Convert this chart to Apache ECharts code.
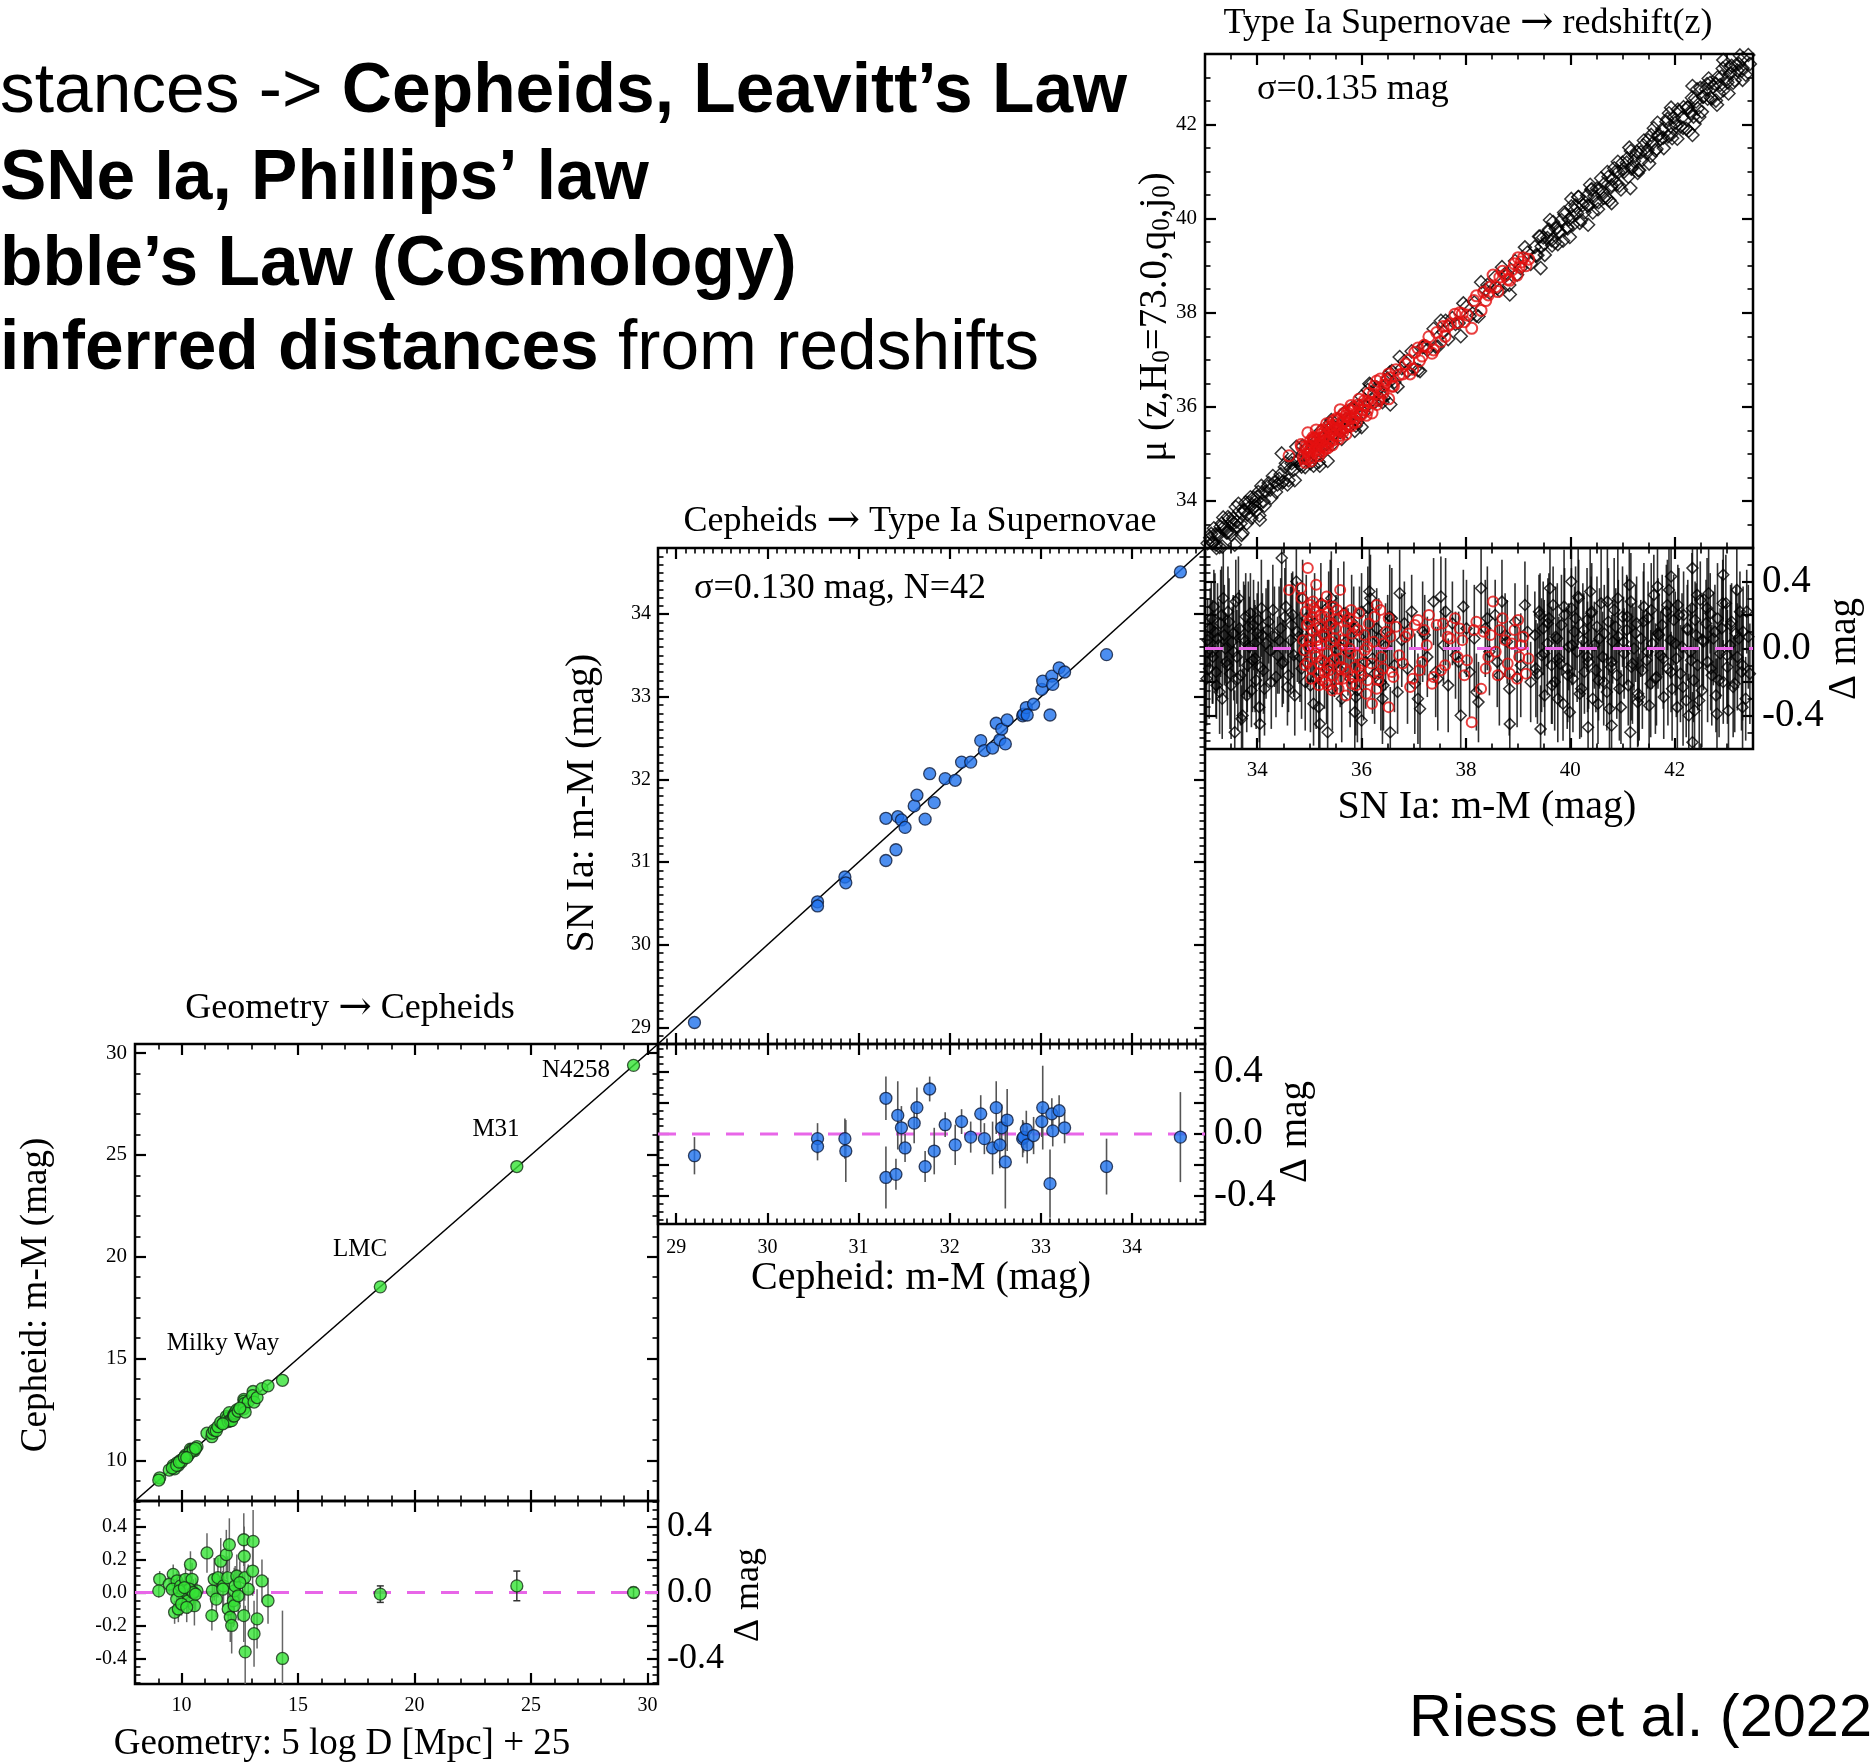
<!DOCTYPE html>
<html><head><meta charset="utf-8">
<script src="https://cdn.jsdelivr.net/npm/echarts@6/dist/echarts.min.js"></script>
<style>html,body{margin:0;padding:0;background:#fff}#c{width:1873px;height:1762px}</style>
</head><body><div id="c"></div>
<script>
// ---------------- DATA ----------------
// Geometry -> Cepheids: Milky Way (x = geometric distance modulus, delta = residual, err)
const mwGeo = [9.06, 9.02, 9.64, 9.47, 9.80, 9.70, 9.86, 9.60, 9.96, 10.06, 10.17, 10.28, 10.38, 10.45, 10.55, 10.66, 9.79, 10.00, 10.34, 10.50, 10.60, 9.90, 10.12, 10.22, 11.09, 11.30, 11.32, 11.40, 11.49, 11.56, 11.68, 11.80, 11.92, 11.98, 12.05, 12.00, 12.09, 12.15, 12.22, 12.26, 12.30, 12.37, 12.26, 12.43, 12.67, 12.69, 12.71, 12.67, 12.73, 12.86, 13.07, 13.05, 13.11, 13.24, 13.45, 13.71, 14.33, 12.50, 11.77];
const mwDelta = [0.08, 0.01, 0.11, 0.05, 0.07, -0.12, -0.10, 0.02, 0.04, -0.01, 0.08, -0.05, 0.17, 0.08, -0.08, 0.01, -0.04, -0.07, 0.02, 0.00, -0.01, 0.01, 0.03, -0.09, 0.24, -0.14, 0.01, 0.08, -0.04, 0.09, 0.19, 0.04, 0.23, 0.09, 0.29, -0.10, -0.15, -0.20, -0.05, 0.01, 0.04, 0.10, -0.08, -0.02, 0.32, 0.22, 0.09, -0.14, -0.36, 0.02, 0.31, 0.13, -0.25, -0.16, 0.07, -0.05, -0.40, 0.06, 0.02];
const mwErr = [0.05, 0.04, 0.06, 0.05, 0.06, 0.07, 0.08, 0.05, 0.07, 0.08, 0.09, 0.08, 0.08, 0.10, 0.12, 0.07, 0.06, 0.07, 0.09, 0.08, 0.10, 0.06, 0.08, 0.09, 0.12, 0.09, 0.10, 0.13, 0.11, 0.12, 0.14, 0.12, 0.15, 0.13, 0.16, 0.14, 0.15, 0.17, 0.16, 0.14, 0.12, 0.13, 0.12, 0.15, 0.16, 0.18, 0.14, 0.16, 0.28, 0.15, 0.19, 0.15, 0.20, 0.18, 0.13, 0.14, 0.29, 0.13, 0.11];
// Geometric anchors
const anchorNames = ['LMC', 'M31', 'N4258'];
const anchorGeo = [18.53, 24.39, 29.40];
const anchorDelta = [-0.01, 0.04, 0.00];
const anchorErr = [0.05, 0.09, 0.03];

// Cepheids -> SN Ia (x = Cepheid m-M, delta = SN - Cepheid)
const cepMu = [29.20, 30.55, 30.55, 30.85, 30.86, 31.30, 31.30, 31.41, 31.43, 31.47, 31.51, 31.61, 31.64, 31.73, 31.78, 31.83, 31.95, 32.06, 32.13, 32.23, 32.34, 32.38, 32.47, 32.51, 32.55, 32.57, 32.61, 32.63, 32.80, 32.81, 32.84, 32.85, 32.92, 33.01, 33.02, 33.12, 33.13, 33.10, 33.20, 33.26, 33.72, 34.53];
const cepDelta = [-0.14, -0.03, -0.08, -0.03, -0.11, 0.23, -0.28, -0.26, 0.12, 0.04, -0.09, 0.07, 0.17, -0.21, 0.29, -0.11, 0.06, -0.07, 0.08, -0.02, 0.13, -0.03, -0.09, 0.17, -0.07, 0.04, -0.18, 0.09, -0.03, -0.02, 0.03, -0.07, -0.01, 0.08, 0.17, 0.13, 0.02, -0.32, 0.15, 0.04, -0.21, -0.02];
const cepErr = [0.12, 0.10, 0.09, 0.13, 0.20, 0.14, 0.20, 0.10, 0.22, 0.14, 0.09, 0.13, 0.13, 0.10, 0.08, 0.15, 0.08, 0.13, 0.08, 0.10, 0.12, 0.10, 0.17, 0.17, 0.15, 0.15, 0.30, 0.20, 0.12, 0.10, 0.12, 0.12, 0.12, 0.10, 0.27, 0.10, 0.10, 0.22, 0.10, 0.10, 0.18, 0.29];

// SN Ia -> redshift, Hubble-flow SNe (black)
const snMu = [33.05, 33.08, 33.12, 33.15, 33.19, 33.22, 33.26, 33.30, 33.33, 33.37, 33.41, 33.44, 33.48, 33.52, 33.55, 33.59, 33.63, 33.66, 33.70, 33.74, 33.78, 33.81, 33.85, 33.89, 33.93, 33.96, 34.00, 34.04, 34.08, 34.12, 34.17, 34.22, 34.27, 34.33, 34.39,
 34.45, 34.50, 34.55, 34.60, 34.64, 34.68, 34.72, 34.77, 34.82, 34.87, 34.92, 34.97,
 35.02, 35.10, 35.18, 35.25, 35.33, 35.40, 35.48, 35.55, 35.62, 35.70, 35.78, 35.85, 35.92, 36.00, 36.08, 36.17, 36.25, 36.33, 36.42, 36.50,
 36.58, 36.69, 36.77, 36.88, 36.96, 37.08, 37.17, 37.26, 37.38, 37.46, 37.57, 37.66, 37.74, 37.86, 37.95, 38.07, 38.16, 38.24, 38.37, 38.45, 38.56, 38.64, 38.75, 38.83, 38.94, 39.05, 39.13, 39.24,
 39.32, 39.37, 39.40, 39.45, 39.48, 39.51, 39.56, 39.59, 39.64, 39.67, 39.70, 39.75, 39.78, 39.83, 39.86, 39.89, 39.94, 39.97, 40.02, 40.05,
 40.08, 40.13, 40.16, 40.21, 40.24, 40.27, 40.32, 40.35, 40.40, 40.43, 40.46, 40.51, 40.54, 40.59, 40.62, 40.65, 40.70, 40.73, 40.78, 40.81,
 40.84, 40.89, 40.92, 40.97, 41.00, 41.03, 41.08, 41.11, 41.16, 41.19, 41.22, 41.27, 41.30, 41.35, 41.38, 41.41, 41.46, 41.49, 41.54, 41.57,
 41.60, 41.65, 41.68, 41.73, 41.76, 41.79, 41.84, 41.87, 41.92, 41.95, 41.98, 42.03, 42.06, 42.11, 42.14, 42.17, 42.22, 42.25, 42.30, 42.33,
 42.36, 42.41, 42.44, 42.49, 42.52, 42.55, 42.60, 42.63, 42.68, 42.71, 42.74, 42.79, 42.82, 42.87, 42.90, 42.93, 42.98, 43.01, 43.06, 43.09,
 43.12, 43.17, 43.20, 43.25, 43.28, 43.31, 43.36, 43.41,
 33.57, 33.72, 34.47, 34.75, 35.20, 35.35, 36.00, 36.55, 38.84, 39.43, 40.02, 40.34, 40.79, 41.15, 42.34, 41.93, 42.34, 42.93, 42.38, 33.35, 34.05, 43.30,
 33.03, 33.10, 33.14, 33.17, 33.21, 33.24, 33.28, 33.32, 33.39, 33.43, 33.46, 33.50, 33.54, 33.61, 33.64, 33.68, 33.76, 33.80, 33.83, 33.87,
 33.91, 33.95, 33.98, 34.02, 34.06, 34.10, 34.14, 34.20, 34.25, 34.30, 34.36, 34.42, 34.48, 34.53, 34.58, 34.66, 34.70, 34.80, 34.85, 34.94,
 35.05, 35.13, 35.22, 35.29, 35.37, 35.44, 35.51, 35.59, 35.66, 35.74, 35.81, 35.89, 35.96, 36.04, 36.12, 36.21, 36.29, 36.37, 36.46, 36.54, 35.08, 35.42, 35.87, 36.15, 36.40,
 36.63, 36.82, 37.02, 37.21, 37.42, 37.61, 37.80, 38.01, 38.20, 38.41, 38.60, 38.79, 38.98, 39.18, 36.73, 37.12, 37.52, 37.90, 38.29, 38.69,
 39.34, 39.42, 39.50, 39.57, 39.65, 39.72, 39.80, 39.88, 39.95, 40.03, 40.10, 40.18, 40.26, 40.33, 40.41, 40.49, 40.56, 40.64, 40.71, 40.79,
 40.87, 40.94, 41.02, 41.09, 41.17, 41.25, 41.32, 41.40, 41.48, 41.55, 41.63, 41.70, 41.78, 41.86, 41.93, 42.01, 42.08, 42.16, 42.24, 42.31,
 42.39, 42.47, 42.54, 42.62, 42.69, 42.77, 42.85, 42.92, 43.00, 43.07, 43.15, 43.23, 43.30, 43.38, 43.44, 39.61, 39.99, 40.38, 40.75, 41.13,
 41.51, 41.89, 42.27, 42.65, 43.03, 39.76, 40.15, 40.53, 40.91, 41.29, 41.67, 42.05, 42.43, 42.81, 43.19];
const snDelta = [0.05, -0.12, 0.18, -0.05, 0.10, -0.22, 0.02, 0.15, -0.30, 0.08, -0.08, 0.22, -0.15, 0.04, -0.02, 0.28, -0.18, 0.12, -0.42, 0.06, 0.19, -0.10, 0.01, -0.25, 0.14, -0.06, 0.09, -0.35, 0.24, -0.13, 0.03, 0.16, -0.20, 0.07, -0.04,
 0.12, -0.08, 0.25, -0.16, 0.05, 0.20, -0.28, 0.10, -0.05, 0.30, -0.20, 0.02,
 -0.22, 0.15, -0.35, 0.08, -0.12, 0.26, -0.05, 0.18, -0.30, 0.04, -0.18, 0.12, -0.25, 0.22, -0.08, 0.30, -0.15, 0.06, -0.22, 0.10,
 0.18, -0.26, 0.05, -0.12, 0.22, -0.30, 0.10, -0.05, 0.28, -0.18, 0.02, -0.22, 0.15, -0.08, 0.25, -0.14, 0.06, -0.32, 0.12, -0.02, 0.20, -0.16, 0.08, -0.24, 0.16, -0.10, 0.26, -0.20,
 0.08, -0.15, 0.22, -0.04, 0.12, -0.28, 0.03, 0.18, -0.10, 0.26, -0.20, 0.06, -0.06, 0.14, -0.33, 0.20, -0.12, 0.01, 0.24, -0.18,
 0.10, -0.02, 0.30, -0.24, 0.05, -0.14, 0.17, -0.08, 0.21, -0.30, 0.02, 0.13, -0.19, 0.27, -0.05, 0.09, -0.26, 0.16, -0.11, 0.04,
 0.23, -0.16, 0.07, -0.35, 0.19, -0.03, 0.11, -0.22, 0.28, -0.09, 0.00, 0.15, -0.27, 0.06, -0.13, 0.25, -0.07, 0.18, -0.21, 0.03,
 0.32, -0.17, 0.09, -0.04, 0.14, -0.29, 0.22, -0.12, 0.05, -0.24, 0.17, -0.06, 0.26, -0.15, 0.01, 0.20, -0.31, 0.11, -0.02, 0.24,
 -0.19, 0.08, -0.10, 0.29, -0.25, 0.04, 0.15, -0.08, 0.21, -0.16, 0.06, -0.28, 0.18, -0.03, 0.12, -0.20, 0.27, -0.11, 0.02, 0.16,
 -0.23, 0.09, -0.05, 0.22, -0.14, 0.10, -0.30, 0.07,
 -0.50, -0.40, 0.54, 0.40, -0.45, -0.50, -0.43, -0.50, -0.45, -0.48, 0.40, -0.47, -0.46, -0.50, -0.56, 0.43, 0.48, 0.44, -0.37, 0.30, -0.45, -0.35,
 -0.18, 0.12, -0.02, 0.25, -0.14, 0.06, -0.26, 0.20, 0.00, -0.10, 0.16, -0.22, 0.09, -0.05, 0.30, -0.16, 0.04, -0.28, 0.13, 0.21,
 -0.07, 0.03, -0.19, 0.17, -0.11, 0.08, -0.24, 0.11, -0.01, 0.23, -0.17, 0.05, -0.09, 0.19, -0.23, 0.14, -0.04, 0.07, -0.12, 0.18,
 0.10, -0.18, 0.27, -0.08, 0.14, -0.24, 0.03, -0.13, 0.21, -0.02, 0.16, -0.29, 0.07, -0.16, 0.24, -0.06, 0.12, -0.20, 0.01, 0.19, -0.33, 0.30, -0.38, 0.34, -0.30,
 -0.10, 0.15, -0.21, 0.08, -0.14, 0.22, -0.04, 0.12, -0.26, 0.18, -0.08, 0.04, -0.17, 0.10, 0.33, -0.36, 0.31, -0.40, 0.36, 0.28,
 -0.12, 0.20, -0.03, 0.15, -0.22, 0.07, -0.09, 0.25, -0.16, 0.02, 0.18, -0.27, 0.11, -0.05, 0.22, -0.13, 0.06, -0.20, 0.28, -0.08,
 0.13, -0.24, 0.04, 0.19, -0.11, 0.09, -0.29, 0.16, -0.02, 0.23, -0.18, 0.08, -0.06, 0.26, -0.14, 0.03, 0.20, -0.23, 0.12, -0.07,
 0.17, -0.31, 0.05, 0.24, -0.12, 0.10, -0.19, 0.27, -0.04, 0.14, -0.21, 0.06, -0.10, 0.22, -0.15, 0.36, -0.38, 0.34, -0.36, 0.38,
 -0.34, 0.35, -0.40, 0.33, -0.37, -0.30, 0.31, -0.33, 0.30, -0.32, 0.37, -0.35, 0.32, -0.39, 0.35];
const snErr = [0.25, 0.30, 0.22, 0.28, 0.35, 0.20, 0.26, 0.32, 0.24, 0.30, 0.22, 0.27, 0.33, 0.21, 0.29, 0.25, 0.31, 0.23, 0.20, 0.34, 0.26, 0.28, 0.30, 0.22, 0.27, 0.32, 0.24, 0.21, 0.29, 0.26, 0.33, 0.25, 0.28, 0.30, 0.23,
 0.30, 0.25, 0.28, 0.22, 0.32, 0.26, 0.24, 0.30, 0.27, 0.23, 0.29, 0.25,
 0.28, 0.30, 0.25, 0.22, 0.33, 0.27, 0.24, 0.30, 0.26, 0.21, 0.29, 0.25, 0.31, 0.23, 0.28, 0.26, 0.30, 0.24, 0.27, 0.22,
 0.30, 0.25, 0.28, 0.33, 0.22, 0.27, 0.30, 0.24, 0.26, 0.31, 0.23, 0.28, 0.25, 0.30, 0.22, 0.27, 0.32, 0.24, 0.29, 0.26, 0.21, 0.30, 0.25, 0.28, 0.23, 0.31, 0.26, 0.24,
 0.26, 0.30, 0.22, 0.34, 0.28, 0.24, 0.31, 0.27, 0.35, 0.23, 0.29, 0.33, 0.25, 0.30, 0.22, 0.28, 0.36, 0.26, 0.24, 0.32,
 0.27, 0.30, 0.23, 0.29, 0.34, 0.25, 0.31, 0.28, 0.22, 0.33, 0.26, 0.30, 0.24, 0.35, 0.27, 0.29, 0.23, 0.32, 0.28, 0.25,
 0.31, 0.26, 0.34, 0.22, 0.30, 0.27, 0.33, 0.24, 0.29, 0.36, 0.25, 0.28, 0.31, 0.23, 0.35, 0.26, 0.30, 0.22, 0.32, 0.27,
 0.24, 0.29, 0.33, 0.26, 0.30, 0.25, 0.28, 0.34, 0.23, 0.31, 0.27, 0.35, 0.24, 0.29, 0.32, 0.26, 0.22, 0.30, 0.28, 0.33,
 0.25, 0.31, 0.27, 0.23, 0.34, 0.29, 0.26, 0.36, 0.24, 0.30, 0.28, 0.22, 0.33, 0.27, 0.31, 0.25, 0.29, 0.34, 0.26, 0.23,
 0.30, 0.28, 0.32, 0.24, 0.35, 0.27, 0.25, 0.31,
 0.25, 0.28, 0.30, 0.26, 0.28, 0.30, 0.25, 0.27, 0.30, 0.26, 0.28, 0.30, 0.25, 0.28, 0.30, 0.27, 0.30, 0.28, 0.26, 0.28, 0.27, 0.30,
 0.28, 0.24, 0.31, 0.22, 0.27, 0.33, 0.25, 0.29, 0.21, 0.30, 0.26, 0.32, 0.23, 0.28, 0.25, 0.30, 0.34, 0.22, 0.27, 0.24,
 0.31, 0.26, 0.29, 0.23, 0.33, 0.25, 0.28, 0.30, 0.22, 0.27, 0.24, 0.32, 0.26, 0.29, 0.23, 0.31, 0.25, 0.28, 0.30, 0.26,
 0.27, 0.30, 0.24, 0.28, 0.32, 0.25, 0.29, 0.22, 0.31, 0.26, 0.28, 0.23, 0.30, 0.27, 0.25, 0.33, 0.24, 0.29, 0.26, 0.31, 0.25, 0.28, 0.30, 0.26, 0.27,
 0.28, 0.25, 0.30, 0.24, 0.27, 0.32, 0.26, 0.29, 0.23, 0.31, 0.27, 0.25, 0.30, 0.28, 0.26, 0.29, 0.24, 0.30, 0.27, 0.25,
 0.29, 0.25, 0.32, 0.27, 0.23, 0.30, 0.26, 0.34, 0.28, 0.24, 0.31, 0.27, 0.22, 0.33, 0.29, 0.25, 0.30, 0.26, 0.35, 0.28,
 0.23, 0.31, 0.27, 0.24, 0.32, 0.29, 0.26, 0.30, 0.22, 0.28, 0.33, 0.25, 0.30, 0.27, 0.24, 0.31, 0.28, 0.35, 0.26, 0.29,
 0.23, 0.32, 0.27, 0.30, 0.25, 0.28, 0.34, 0.26, 0.31, 0.24, 0.29, 0.27, 0.33, 0.25, 0.30, 0.28, 0.26, 0.31, 0.24, 0.29,
 0.27, 0.32, 0.25, 0.30, 0.28, 0.26, 0.29, 0.24, 0.31, 0.27, 0.30, 0.25, 0.28, 0.33, 0.26];
// SN Ia in the Cepheid-host redshift range (red)
const snRedMu = [34.97, 34.61, 35.59, 35.13, 34.84, 38.52, 37.79, 37.29, 38.29, 38.11, 36.52, 36.20, 35.70, 39.00, 39.15, 39.02, 36.93, 36.29, 36.52, 37.02, 37.56, 37.93, 37.52, 37.38, 37.97, 38.61, 38.84, 38.65, 38.34, 37.11, 36.79, 36.61, 36.43, 36.02, 35.93, 35.84, 35.76, 35.56, 35.38, 35.25, 35.15, 35.06, 34.93, 34.85, 35.00, 35.13, 35.29, 35.43, 35.52, 35.65, 35.79, 35.88, 36.11, 36.25, 36.38, 36.55, 36.84, 37.20, 37.65, 37.84, 38.15, 38.43, 38.75, 38.93, 39.06, 39.20, 35.06, 35.20, 35.34, 35.47, 35.61, 34.97, 34.90, 35.15, 35.29, 35.70, 36.11, 36.29, 35.97, 35.25, 35.02,
 34.95, 35.04, 35.09, 35.17, 35.22, 35.31, 35.36, 35.41, 35.45, 35.50, 35.58, 35.66, 35.74, 35.82, 35.90,
 34.88, 34.92, 34.99, 35.03, 35.07, 35.11, 35.14, 35.18, 35.21, 35.24, 35.27, 35.30, 35.33, 35.37, 35.40, 35.44, 35.48, 35.53, 35.57, 35.63,
 35.68, 35.72, 35.77, 35.81, 35.86, 35.91, 35.95, 36.00, 36.05, 36.09, 36.14, 36.19, 36.23, 36.32, 36.36, 36.41, 36.47, 36.58, 36.66, 36.72,
 36.90, 36.98, 37.08, 37.16, 37.25, 37.35, 37.44, 37.60, 37.70, 37.88, 38.02, 38.20, 38.38, 38.47, 38.57, 38.70, 38.80, 38.88, 38.98, 39.10,
 34.98, 35.10, 35.19, 35.35, 35.46, 35.55, 35.64, 35.80, 36.06, 36.33];
const snRedDelta = [0.48, 0.35, 0.35, 0.38, 0.36, 0.28, 0.18, 0.20, -0.24, -0.44, -0.35, -0.33, -0.28, 0.17, -0.15, -0.05, -0.23, 0.26, 0.18, 0.14, 0.15, 0.05, -0.13, -0.17, -0.16, -0.16, -0.15, 0.11, 0.10, -0.13, -0.09, -0.17, 0.03, -0.09, 0.11, -0.17, 0.18, -0.24, -0.13, -0.19, 0.01, 0.11, 0.22, 0.30, 0.05, -0.05, 0.07, 0.15, -0.01, 0.05, -0.03, -0.11, 0.01, 0.19, -0.05, 0.07, 0.07, 0.11, 0.07, -0.05, 0.11, -0.05, 0.05, 0.11, 0.02, -0.06, 0.19, 0.13, -0.03, -0.07, -0.11, -0.08, -0.01, 0.05, 0.19, 0.11, -0.19, -0.24, -0.13, 0.26, 0.26,
 0.14, -0.12, 0.24, -0.15, 0.02, -0.20, 0.22, 0.04, -0.16, 0.12, -0.06, 0.20, -0.14, 0.09, -0.22,
 0.05, -0.10, 0.16, -0.18, 0.28, -0.03, 0.12, -0.22, 0.20, -0.07, 0.09, -0.14, 0.31, -0.10, 0.14, -0.25, 0.06, 0.23, -0.18, 0.02,
 -0.12, 0.16, 0.00, -0.21, 0.13, -0.04, 0.21, -0.16, 0.08, -0.27, 0.15, -0.09, 0.04, -0.19, 0.23, -0.12, 0.10, -0.14, 0.13, -0.04,
 0.09, -0.18, 0.17, -0.08, 0.02, -0.21, 0.14, -0.10, 0.06, 0.12, -0.07, 0.16, -0.12, 0.08, -0.02, 0.18, -0.09, 0.03, -0.18, 0.07,
 0.01, 0.22, -0.09, -0.22, 0.25, 0.18, -0.18, 0.23, -0.01, -0.15];

// Tick labels
const geoTicks = [10, 15, 20, 25, 30];
const cepTicks = [29, 30, 31, 32, 33, 34];
const snTicks = [34, 36, 38, 40, 42];
const resTicksSmall = [-0.4, -0.2, 0, 0.2, 0.4];
const resTicksBig = [-0.4, 0, 0.4];

// ---------------- LAYOUT ----------------
const SERIF = '"Liberation Serif","Times New Roman",Times,serif';
const SANS = '"Liberation Sans",Arial,Helvetica,sans-serif';
const L = {
  geo: {left: 135, top: 1044, w: 523, hM: 457, hR: 183, x: [8, 30.45], r: [-0.555, 0.555]},
  cep: {left: 658, top: 548, w: 547, hM: 496, hR: 180, x: [28.8, 34.8], r: [-0.58, 0.58]},
  sn:  {left: 1205, top: 54, w: 548, hM: 494, hR: 201, x: [33, 43.5], r: [-0.6, 0.6]}
};

function steps(min, max, step) {
  const a = []; const s = Math.ceil(min / step - 1e-6), e = Math.floor(max / step + 1e-6);
  for (let k = s; k <= e; k++) a.push(+(k * step).toFixed(4));
  return a;
}
const fmt1 = v => (+v).toFixed(1);

const grid = [], xAxis = [], yAxis = [];
function addGrid(left, top, w, h) {
  grid.push({left, top, width: w, height: h, show: true, borderColor: '#000', borderWidth: 2.5, backgroundColor: 'rgba(0,0,0,0)'});
  return grid.length - 1;
}
function addAxes(list, gi, pos, range, major, minor, label) {
  const base = {type: 'value', gridIndex: gi, position: pos, min: range[0], max: range[1],
    axisLine: {show: false, onZero: false}, splitLine: {show: false}, silent: true};
  list.push(Object.assign({}, base, {
    axisTick: {show: true, inside: true, length: 11, customValues: major, lineStyle: {color: '#000', width: 2.2}},
    axisLabel: label ? Object.assign({show: true, color: '#000', fontFamily: SERIF}, label) : {show: false}
  }));
  const idx = list.length - 1;
  list.push(Object.assign({}, base, {
    axisTick: {show: true, inside: true, length: 5.5, customValues: minor, lineStyle: {color: '#000', width: 1.6}},
    axisLabel: {show: false}
  }));
  return idx;
}

// Geometry panel
const gGeoM = addGrid(L.geo.left, L.geo.top, L.geo.w, L.geo.hM);
const gGeoR = addGrid(L.geo.left, L.geo.top + L.geo.hM, L.geo.w, L.geo.hR);
const geoMinor = steps(L.geo.x[0], L.geo.x[1], 1);
const geoMX = addAxes(xAxis, gGeoM, 'bottom', L.geo.x, geoTicks, geoMinor, null);
addAxes(xAxis, gGeoM, 'top', L.geo.x, geoTicks, geoMinor, null);
const geoMY = addAxes(yAxis, gGeoM, 'left', L.geo.x, geoTicks, geoMinor, {customValues: geoTicks, fontSize: 21, margin: 8});
addAxes(yAxis, gGeoM, 'right', L.geo.x, geoTicks, geoMinor, null);
const geoRX = addAxes(xAxis, gGeoR, 'bottom', L.geo.x, geoTicks, geoMinor, {customValues: geoTicks, fontSize: 20, margin: 12});
addAxes(xAxis, gGeoR, 'top', L.geo.x, geoTicks, geoMinor, null);
const geoRY = addAxes(yAxis, gGeoR, 'left', L.geo.r, resTicksSmall, steps(L.geo.r[0], L.geo.r[1], 0.05), {customValues: resTicksSmall, fontSize: 20, margin: 8, formatter: fmt1});
addAxes(yAxis, gGeoR, 'right', L.geo.r, resTicksSmall, steps(L.geo.r[0], L.geo.r[1], 0.05), {customValues: resTicksBig, fontSize: 36, margin: 9, formatter: fmt1});

// Cepheid panel
const gCepM = addGrid(L.cep.left, L.cep.top, L.cep.w, L.cep.hM);
const gCepR = addGrid(L.cep.left, L.cep.top + L.cep.hM, L.cep.w, L.cep.hR);
const cepMinor = steps(L.cep.x[0], L.cep.x[1], 0.1);
const cepMX = addAxes(xAxis, gCepM, 'bottom', L.cep.x, cepTicks, cepMinor, null);
addAxes(xAxis, gCepM, 'top', L.cep.x, cepTicks, cepMinor, null);
const cepMY = addAxes(yAxis, gCepM, 'left', L.cep.x, cepTicks, cepMinor, {customValues: cepTicks, fontSize: 20, margin: 7});
addAxes(yAxis, gCepM, 'right', L.cep.x, cepTicks, cepMinor, null);
const cepRX = addAxes(xAxis, gCepR, 'bottom', L.cep.x, cepTicks, cepMinor, {customValues: cepTicks, fontSize: 20, margin: 14});
addAxes(xAxis, gCepR, 'top', L.cep.x, cepTicks, cepMinor, null);
const cepRY = addAxes(yAxis, gCepR, 'left', L.cep.r, resTicksSmall, steps(L.cep.r[0], L.cep.r[1], 0.05), null);
addAxes(yAxis, gCepR, 'right', L.cep.r, resTicksSmall, steps(L.cep.r[0], L.cep.r[1], 0.05), {customValues: resTicksBig, fontSize: 39, margin: 9, formatter: fmt1});

// SN panel
const gSnM = addGrid(L.sn.left, L.sn.top, L.sn.w, L.sn.hM);
const gSnR = addGrid(L.sn.left, L.sn.top + L.sn.hM, L.sn.w, L.sn.hR);
const snMinor = steps(L.sn.x[0], L.sn.x[1], 0.5);
const snMX = addAxes(xAxis, gSnM, 'bottom', L.sn.x, snTicks, snMinor, null);
addAxes(xAxis, gSnM, 'top', L.sn.x, snTicks, snMinor, null);
const snMY = addAxes(yAxis, gSnM, 'left', L.sn.x, snTicks, snMinor, {customValues: snTicks, fontSize: 21, margin: 8});
addAxes(yAxis, gSnM, 'right', L.sn.x, snTicks, snMinor, null);
const snRX = addAxes(xAxis, gSnR, 'bottom', L.sn.x, snTicks, snMinor, {customValues: snTicks, fontSize: 21, margin: 11});
addAxes(xAxis, gSnR, 'top', L.sn.x, snTicks, snMinor, null);
const snRY = addAxes(yAxis, gSnR, 'left', L.sn.r, resTicksSmall, steps(L.sn.r[0], L.sn.r[1], 0.05), null);
addAxes(yAxis, gSnR, 'right', L.sn.r, resTicksSmall, steps(L.sn.r[0], L.sn.r[1], 0.1), {customValues: resTicksBig, fontSize: 39, margin: 9, formatter: fmt1});

// ---------------- SERIES ----------------
const PINK = '#e866e8';
function errSeries(xi, yi, xs, ds, es, lim, color, width, cap, z) {
  return {
    type: 'custom', xAxisIndex: xi, yAxisIndex: yi, silent: true, z,
    data: xs.map((x, i) => [x, ds[i], es[i]]),
    encode: {x: 0, y: 1},
    renderItem: (params, api) => {
      const x = api.value(0), d = api.value(1), e = api.value(2);
      const lo = Math.max(d - e, lim[0]), hi = Math.min(d + e, lim[1]);
      const a = api.coord([x, lo]), b = api.coord([x, hi]);
      const st = {stroke: color, lineWidth: width};
      const ch = [{type: 'line', shape: {x1: a[0], y1: a[1], x2: b[0], y2: b[1]}, style: st}];
      if (cap) {
        ch.push({type: 'line', shape: {x1: a[0] - cap, y1: a[1], x2: a[0] + cap, y2: a[1]}, style: st});
        ch.push({type: 'line', shape: {x1: b[0] - cap, y1: b[1], x2: b[0] + cap, y2: b[1]}, style: st});
      }
      return {type: 'group', children: ch};
    }
  };
}
function diag(xi, yi, r) {
  return {type: 'line', xAxisIndex: xi, yAxisIndex: yi, data: [[r[0], r[0]], [r[1], r[1]]], symbol: 'none', silent: true, z: 2,
    lineStyle: {color: '#000', width: 1.6}};
}
function zero(xi, yi, r, z) {
  return {type: 'line', xAxisIndex: xi, yAxisIndex: yi, data: [[r[0], 0], [r[1], 0]], symbol: 'none', silent: true, z,
    lineStyle: {color: PINK, width: 2.8, type: [18, 16]}};
}
// main-panel ordinate = abscissa + residual (residual defined as y - x)
const pairs = (xs, ds) => xs.map((x, i) => [x, +(x + ds[i]).toFixed(3)]);
const resid = (xs, ds) => xs.map((x, i) => [x, ds[i]]);

const GREEN = {color: '#36e336', borderColor: '#173017', borderWidth: 1.3};
const BLUE = {color: '#1f72ec', borderColor: '#0c1a3a', borderWidth: 1.3};
const BLACKD = {color: 'rgba(0,0,0,0)', borderColor: '#000', borderWidth: 1.5};
const REDC = {color: 'rgba(0,0,0,0)', borderColor: '#e41010', borderWidth: 2};

const series = [
  // Geometry -> Cepheids
  diag(geoMX, geoMY, L.geo.x),
  {type: 'scatter', xAxisIndex: geoMX, yAxisIndex: geoMY, data: pairs(mwGeo, mwDelta).concat(pairs(anchorGeo, anchorDelta)),
    symbol: 'circle', symbolSize: 12, itemStyle: GREEN, silent: true, z: 5},
  zero(geoRX, geoRY, L.geo.x, 2),
  errSeries(geoRX, geoRY, mwGeo, mwDelta, mwErr, L.geo.r, '#666', 1.5, 0, 3),
  errSeries(geoRX, geoRY, anchorGeo, anchorDelta, anchorErr, L.geo.r, '#333', 1.5, 3.5, 3),
  {type: 'scatter', xAxisIndex: geoRX, yAxisIndex: geoRY, data: resid(mwGeo, mwDelta).concat(resid(anchorGeo, anchorDelta)),
    symbol: 'circle', symbolSize: 12, itemStyle: GREEN, silent: true, z: 5},
  // Cepheids -> SN Ia
  diag(cepMX, cepMY, L.cep.x),
  {type: 'scatter', xAxisIndex: cepMX, yAxisIndex: cepMY, data: pairs(cepMu, cepDelta),
    symbol: 'circle', symbolSize: 12, itemStyle: BLUE, silent: true, z: 5},
  zero(cepRX, cepRY, L.cep.x, 2),
  errSeries(cepRX, cepRY, cepMu, cepDelta, cepErr, L.cep.r, '#555', 1.6, 0, 3),
  {type: 'scatter', xAxisIndex: cepRX, yAxisIndex: cepRY, data: resid(cepMu, cepDelta),
    symbol: 'circle', symbolSize: 12, itemStyle: BLUE, silent: true, z: 5},
  // SN Ia -> redshift
  {type: 'scatter', xAxisIndex: snMX, yAxisIndex: snMY, data: pairs(snMu, snDelta),
    symbol: 'diamond', symbolSize: 13, itemStyle: BLACKD, silent: true, z: 3},
  {type: 'scatter', xAxisIndex: snMX, yAxisIndex: snMY, data: pairs(snRedMu, snRedDelta),
    symbol: 'circle', symbolSize: 11, itemStyle: REDC, silent: true, z: 5},
  errSeries(snRX, snRY, snMu, snDelta, snErr, L.sn.r, 'rgba(10,10,10,0.85)', 1.6, 0, 2),
  {type: 'scatter', xAxisIndex: snRX, yAxisIndex: snRY, data: resid(snMu, snDelta),
    symbol: 'diamond', symbolSize: 11, itemStyle: BLACKD, silent: true, z: 3},
  zero(snRX, snRY, L.sn.x, 4),
  {type: 'scatter', xAxisIndex: snRX, yAxisIndex: snRY, data: resid(snRedMu, snRedDelta),
    symbol: 'circle', symbolSize: 10, itemStyle: REDC, silent: true, z: 5}
];

// ---------------- TEXT ----------------
function T(text, x, y, size, o) {
  o = o || {};
  const align = o.align || 'center';
  const st = {text, fill: '#000', fontSize: size, fontFamily: o.family || SERIF, fontWeight: o.weight || 'normal',
    textAlign: align, textVerticalAlign: 'middle', align: align, verticalAlign: 'middle'};
  if (o.rich) st.rich = o.rich;
  return {type: 'text', x, y, rotation: o.rot || 0, silent: true, z: 100, style: st};
}
const UP = Math.PI / 2;
const slideRich = {
  r: {fontFamily: SANS, fontSize: 69.5, fontWeight: 'normal', fill: '#000'},
  b: {fontFamily: SANS, fontSize: 69.5, fontWeight: 'bold', fill: '#000'}
};
const muRich = {
  m: {fontFamily: SERIF, fontSize: 39, fill: '#000', lineHeight: 46, verticalAlign: 'bottom'},
  s: {fontFamily: SERIF, fontSize: 25, fill: '#000', lineHeight: 46, verticalAlign: 'bottom'}
};
const titleRich = {
  t: {fontFamily: SERIF, fontSize: 36, fill: '#000'},
  a: {fontFamily: '"DejaVu Serif",serif', fontSize: 40, fill: '#000'}
};
const ttl = (a, b, x, y) => T('{t|' + a + ' }{a|\u2192}{t| ' + b + '}', x, y, 36, {rich: titleRich});
const graphic = [
  T('{r|stances -> }{b|Cepheids, Leavitt\u2019s Law}', 0, 93, 69.5, {align: 'left', family: SANS, rich: slideRich}),
  T('{b|SNe Ia, Phillips\u2019 law}', 0, 180, 69.5, {align: 'left', family: SANS, rich: slideRich}),
  T('{b|bble\u2019s Law (Cosmology)}', 0, 266, 69.5, {align: 'left', family: SANS, rich: slideRich}),
  T('{b|inferred distances}{r| from redshifts}', 0, 350, 69.5, {align: 'left', family: SANS, rich: slideRich}),
  T('Riess et al. (2022', 1409, 1720, 59.5, {align: 'left', family: SANS}),
  // SN panel
  ttl('Type Ia Supernovae', 'redshift(z)', 1468, 24),
  T('\u03c3=0.135 mag', 1257, 90, 36, {align: 'left'}),
  T('{m|\u03bc (z,H}{s|0}{m|=73.0,q}{s|0}{m|,j}{s|0}{m|)}', 1152, 317, 39, {rot: UP, rich: muRich}),
  T('\u0394 mag', 1845, 649, 39, {rot: UP}),
  T('SN Ia: m-M (mag)', 1487, 807, 40),
  // Cepheid panel
  ttl('Cepheids', 'Type Ia Supernovae', 920, 522),
  T('\u03c3=0.130 mag, N=42', 694, 589, 36, {align: 'left'}),
  T('SN Ia: m-M (mag)', 582, 803, 40, {rot: UP}),
  T('\u0394 mag', 1296, 1132, 39, {rot: UP}),
  T('Cepheid: m-M (mag)', 921, 1278, 40),
  // Geometry panel
  ttl('Geometry', 'Cepheids', 350, 1009),
  T('Cepheid: m-M (mag)', 36, 1295, 37, {rot: UP}),
  T('\u0394 mag', 749, 1595, 36, {rot: UP}),
  T('Geometry: 5 log D [Mpc] + 25', 342, 1744, 37),
  T('Milky Way', 223, 1343, 25),
  T(anchorNames[0], 360, 1249, 25),
  T(anchorNames[1], 496, 1129, 25),
  T(anchorNames[2], 576, 1070, 25)
];

const chart = echarts.init(document.getElementById('c'), null, {renderer: 'canvas'});
chart.setOption({
  backgroundColor: '#fff', animation: false,
  grid, xAxis, yAxis, series, graphic
});
</script></body></html>
